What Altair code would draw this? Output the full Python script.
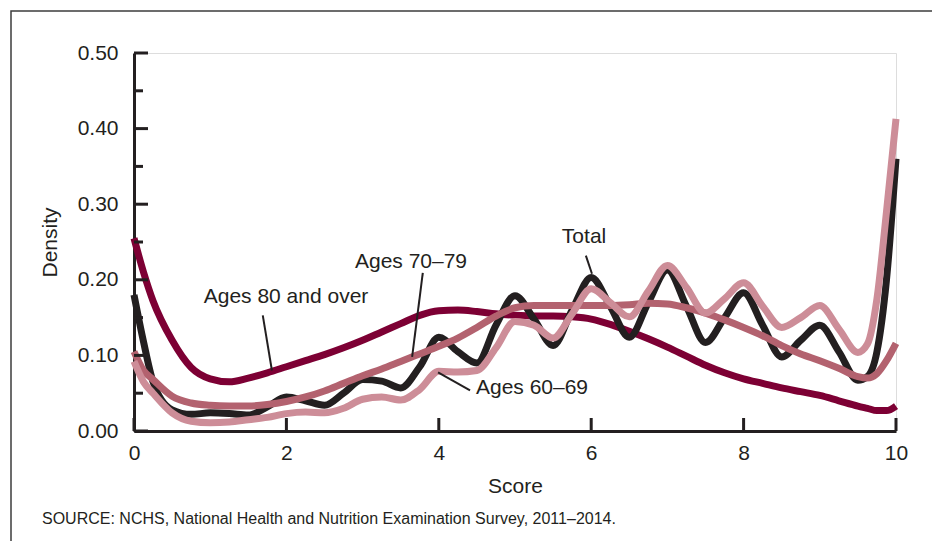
import altair as alt
import pandas as pd

# ---- data ----
x_grid = [0, 0.125, 0.25, 0.5, 0.75, 1.0, 1.25, 1.5, 1.75, 2.0, 2.25, 2.5, 2.75,
          3.0, 3.25, 3.5, 3.75, 4.0, 4.25, 4.5, 4.75, 5.0, 5.25, 5.5, 5.75,
          6.0, 6.25, 6.5, 6.75, 7.0, 7.25, 7.5, 7.75, 8.0, 8.25, 8.5, 8.75,
          9.0, 9.25, 9.5, 9.625, 9.75, 9.875, 10.0]

total = [0.180, 0.118, 0.065, 0.028, 0.022, 0.024, 0.023, 0.021, 0.032, 0.045, 0.040, 0.034, 0.050,
         0.068, 0.066, 0.057, 0.085, 0.124, 0.105, 0.090, 0.140, 0.179, 0.148, 0.113, 0.160,
         0.203, 0.165, 0.124, 0.170, 0.213, 0.165, 0.117, 0.150, 0.183, 0.140, 0.098, 0.120,
         0.140, 0.105, 0.067, 0.072, 0.105, 0.200, 0.360]

ages_60_69 = [0.092, 0.065, 0.050, 0.024, 0.013, 0.011, 0.012, 0.015, 0.018, 0.023, 0.025, 0.024, 0.030,
              0.042, 0.045, 0.041, 0.055, 0.079, 0.078, 0.080, 0.110, 0.145, 0.140, 0.123, 0.155,
              0.188, 0.170, 0.151, 0.185, 0.219, 0.190, 0.156, 0.175, 0.196, 0.165, 0.137, 0.150,
              0.166, 0.135, 0.104, 0.115, 0.175, 0.290, 0.413]

ages_70_79 = [0.105, 0.080, 0.068, 0.046, 0.037, 0.034, 0.033, 0.033, 0.035, 0.039, 0.045, 0.053, 0.063,
              0.073, 0.082, 0.092, 0.102, 0.112, 0.123, 0.137, 0.152, 0.163, 0.166, 0.166, 0.166,
              0.166, 0.166, 0.167, 0.169, 0.168, 0.163, 0.156, 0.147, 0.137, 0.126, 0.113, 0.102,
              0.093, 0.083, 0.072, 0.070, 0.076, 0.093, 0.116]

ages_80_over = [0.255, 0.210, 0.172, 0.120, 0.084, 0.069, 0.065, 0.070, 0.077, 0.085, 0.093, 0.101, 0.110,
                0.120, 0.131, 0.142, 0.153, 0.159, 0.160, 0.158, 0.155, 0.153, 0.152, 0.152, 0.151,
                0.148, 0.141, 0.132, 0.122, 0.111, 0.099, 0.087, 0.077, 0.069, 0.063, 0.057, 0.052,
                0.047, 0.040, 0.033, 0.030, 0.027, 0.027, 0.033]

series_names = ["Ages 80 and over", "Total", "Ages 70–79", "Ages 60–69"]
series_values = [ages_80_over, total, ages_70_79, ages_60_69]
series_colors = ["#7d0034", "#231f20", "#b3626f", "#cd8d98"]

x_ticks = [0, 2, 4, 6, 8, 10]
y_major = [0.0, 0.1, 0.2, 0.3, 0.4, 0.5]
y_minor = [0.05, 0.15, 0.25, 0.35, 0.45]

label_text = ["Total", "Ages 70–79", "Ages 80 and over", "Ages 60–69"]
label_x = [5.906, 3.635, 1.995, 5.223]
label_y = [0.256, 0.224, 0.177, 0.0565]

ptr_x = [5.93, 3.79, 1.69, 3.99]
ptr_y = [0.232, 0.209, 0.153, 0.0776]
ptr_x2 = [6.01, 3.65, 1.81, 4.41]
ptr_y2 = [0.208, 0.098, 0.080, 0.0538]

source_text = "SOURCE: NCHS, National Health and Nutrition Examination Survey, 2011–2014."

# ---- build ----
W, H = 762, 378
INK = "#231f20"
FONT = "Liberation Sans"
FS = 21

xs = alt.Scale(domain=[0, 10], nice=False, zero=False)
ys = alt.Scale(domain=[0, 0.5], nice=False)

x_axis = alt.Axis(values=x_ticks, format="d", ticks=False, grid=False, domainColor=INK,
                  domainWidth=3, labelFontSize=FS, labelColor=INK, labelPadding=11,
                  labelFlush=False, labelFont=FONT, title="Score", titleFont=FONT,
                  titleFontSize=FS, titleFontWeight="normal", titleColor=INK, titlePadding=12)
y_axis = alt.Axis(values=y_major, format=".2f", ticks=False, grid=False, domainColor=INK,
                  domainWidth=3, labelFontSize=FS, labelColor=INK, labelPadding=16,
                  labelFlush=False, labelFont=FONT, title="Density", titleFont=FONT,
                  titleFontSize=FS, titleFontWeight="normal", titleColor=INK, titlePadding=17)

layers = []

# border around the whole figure
border = alt.Chart(pd.DataFrame({"a": [0]})).mark_rect(
    fillOpacity=0, stroke="#3c3c3c", strokeWidth=1.5
).encode(x=alt.value(-123), x2=alt.value(800), y=alt.value(-42), y2=alt.value(520))
layers.append(border)

for name, vals, col in zip(series_names, series_values, series_colors):
    df = pd.DataFrame({"score": x_grid, "density": vals})
    ln = alt.Chart(df).mark_line(
        interpolate="monotone", strokeWidth=7, color=col, strokeCap="butt"
    ).encode(
        x=alt.X("score:Q", scale=xs, axis=x_axis),
        y=alt.Y("density:Q", scale=ys, axis=y_axis),
    )
    layers.append(ln)

# inward ticks
xt = alt.Chart(pd.DataFrame({"t": x_ticks})).mark_rule(color=INK, strokeWidth=3).encode(
    x=alt.X("t:Q", scale=xs), y=alt.value(H), y2=alt.value(H - 13))
ymaj = alt.Chart(pd.DataFrame({"t": y_major})).mark_rule(color=INK, strokeWidth=3).encode(
    y=alt.Y("t:Q", scale=ys), x=alt.value(0), x2=alt.value(14))
ymin = alt.Chart(pd.DataFrame({"t": y_minor})).mark_rule(color=INK, strokeWidth=3).encode(
    y=alt.Y("t:Q", scale=ys), x=alt.value(0), x2=alt.value(9))
layers += [xt, ymaj, ymin]

# pointers and labels
ptr_df = pd.DataFrame({"x": ptr_x, "y": ptr_y, "x2": ptr_x2, "y2": ptr_y2})
ptr = alt.Chart(ptr_df).mark_rule(color=INK, strokeWidth=2).encode(
    x=alt.X("x:Q", scale=xs), y=alt.Y("y:Q", scale=ys), x2="x2:Q", y2="y2:Q")
lab_df = pd.DataFrame({"label": label_text, "x": label_x, "y": label_y})
lab = alt.Chart(lab_df).mark_text(
    font=FONT, fontSize=FS, color=INK, align="center", baseline="middle"
).encode(x=alt.X("x:Q", scale=xs), y=alt.Y("y:Q", scale=ys), text="label:N")
src = alt.Chart(pd.DataFrame({"s": [source_text]})).mark_text(
    font=FONT, fontSize=16, color=INK, align="left", baseline="middle"
).encode(x=alt.value(-92), y=alt.value(466), text="s:N")
layers += [ptr, lab, src]

chart = alt.layer(*layers).properties(
    width=W, height=H,
    autosize=alt.AutoSizeParams(type="none"),
    padding={"left": 126, "top": 45, "right": 36, "bottom": 110},
).configure_view(stroke=None).configure(background="white")

chart.save("out.html", embed_options={"renderer": "svg", "actions": False})
